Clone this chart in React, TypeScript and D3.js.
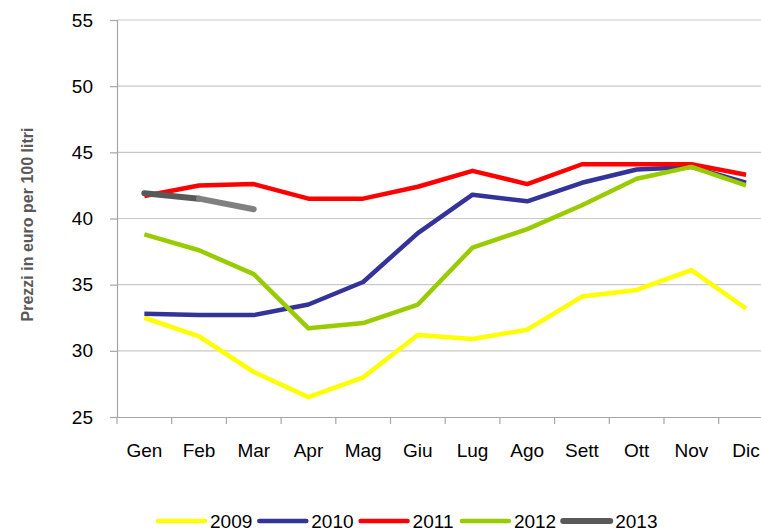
import React, { useEffect, useRef } from 'react';
import * as d3 from 'd3';

// months on the x axis
const mesi = ['Gen', 'Feb', 'Mar', 'Apr', 'Mag', 'Giu', 'Lug', 'Ago', 'Sett', 'Ott', 'Nov', 'Dic'];

// prices, euro per 100 litri
const anno2009 = [32.5, 31.1, 28.4, 26.5, 28.0, 31.2, 30.9, 31.6, 34.1, 34.6, 36.1, 33.2];
const anno2010 = [32.8, 32.7, 32.7, 33.5, 35.2, 38.9, 41.8, 41.3, 42.7, 43.7, 43.9, 42.7];
const anno2011 = [41.7, 42.5, 42.6, 41.5, 41.5, 42.4, 43.6, 42.6, 44.1, 44.1, 44.1, 43.3];
const anno2012 = [38.8, 37.6, 35.8, 31.7, 32.1, 33.5, 37.8, 39.2, 41.0, 43.0, 43.9, 42.5];
const anno2013 = [41.9, 41.5, 40.7];

const yTicks = [25, 30, 35, 40, 45, 50, 55];

const serie = [
  { nome: '2009', valori: anno2009, colore: '#FFFF00' },
  { nome: '2010', valori: anno2010, colore: '#333399' },
  { nome: '2011', valori: anno2011, colore: '#FF0000' },
  { nome: '2012', valori: anno2012, colore: '#99CC00' },
  { nome: '2013', valori: anno2013, colore: '#595959' },
];

export default function App() {
  const ref = useRef<SVGSVGElement>(null);

  useEffect(() => {
    const svg = d3.select(ref.current);
    svg.selectAll('*').remove();

    const left = 117;
    const top = 20;
    const bottom = 417;
    const step = 54.7;
    const font = 'Liberation Sans, Arial, sans-serif';

    const x = d3.scaleBand().domain(mesi).range([left, left + step * mesi.length]);
    const y = d3.scaleLinear().domain([25, 55]).range([bottom, top]);

    // gridlines
    svg.append('g')
      .selectAll('line')
      .data(yTicks.slice(1))
      .enter().append('line')
      .attr('x1', left)
      .attr('x2', 761)
      .attr('y1', d => y(d))
      .attr('y2', d => y(d))
      .attr('stroke', '#c8c8c8')
      .attr('stroke-width', 1.2);

    // y axis
    const yAxis = svg.append('g')
      .attr('transform', `translate(${left},0)`)
      .call(d3.axisLeft(y).tickValues(yTicks).tickSize(7).tickPadding(17));
    yAxis.select('.domain').attr('stroke', '#a6a6a6').attr('stroke-width', 1.2);
    yAxis.selectAll('.tick line').attr('stroke', '#a6a6a6').attr('stroke-width', 1.2);
    yAxis.selectAll('.tick text')
      .attr('fill', '#000')
      .style('font-family', font)
      .style('font-size', '19px');

    // x axis
    const xAxis = svg.append('g')
      .attr('transform', `translate(0,${bottom})`)
      .call(d3.axisBottom(x).tickSize(0).tickPadding(27));
    xAxis.select('.domain').attr('stroke', '#a6a6a6').attr('stroke-width', 1.2);
    xAxis.selectAll('.tick text')
      .attr('fill', '#000')
      .style('font-family', font)
      .style('font-size', '19px');
    // tick marks between categories
    xAxis.selectAll('.sep')
      .data(mesi)
      .enter().append('line')
      .attr('x1', d => x(d)!)
      .attr('x2', d => x(d)!)
      .attr('y1', 0)
      .attr('y2', 7)
      .attr('stroke', '#a6a6a6')
      .attr('stroke-width', 1.2);

    // axis title
    svg.append('text')
      .attr('transform', `translate(33,${(top + bottom) / 2 + 6}) rotate(-90)`)
      .attr('text-anchor', 'middle')
      .style('font-family', font)
      .style('font-size', '16px')
      .style('font-weight', 'bold')
      .attr('fill', '#595959')
      .text('Prezzi in euro per 100 litri');

    const cx = (i: number) => x(mesi[i])! + x.bandwidth() / 2;
    const line = d3.line<number>().x((d, i) => cx(i)).y(d => y(d));

    serie.forEach(s => {
      if (s.nome === '2013') {
        // first stretch dark, last month lighter grey
        svg.append('path')
          .attr('d', line(s.valori.slice(0, 2)))
          .attr('fill', 'none')
          .attr('stroke', s.colore)
          .attr('stroke-width', 6)
          .attr('stroke-linecap', 'round');
        const seg = [s.valori[1], s.valori[2]];
        svg.append('path')
          .attr('d', d3.line<number>().x((d, i) => cx(i + 1)).y(d => y(d))(seg))
          .attr('fill', 'none')
          .attr('stroke', '#808080')
          .attr('stroke-width', 6)
          .attr('stroke-linecap', 'round');
        return;
      }
      svg.append('path')
        .attr('d', line(s.valori))
        .attr('fill', 'none')
        .attr('stroke', s.colore)
        .attr('stroke-width', 4.5)
        .attr('stroke-linejoin', 'round');
    });

    // legend
    const leg = svg.append('g')
      .selectAll('g')
      .data(serie)
      .enter().append('g')
      .attr('transform', (d, i) => `translate(${158 + i * 101.3},521)`);
    leg.append('line')
      .attr('x1', 0)
      .attr('x2', 47)
      .attr('stroke', d => d.colore)
      .attr('stroke-width', d => (d.nome === '2013' ? 6 : 4.5))
      .attr('stroke-linecap', 'round');
    leg.append('text')
      .attr('x', 52)
      .attr('y', 7)
      .style('font-family', font)
      .style('font-size', '19px')
      .attr('fill', '#000')
      .text(d => d.nome);
  }, []);

  return (
    <svg ref={ref} width={761} height={531}
      style={{ position: 'absolute', left: 0, top: 0, background: '#fff' }} />
  );
}
